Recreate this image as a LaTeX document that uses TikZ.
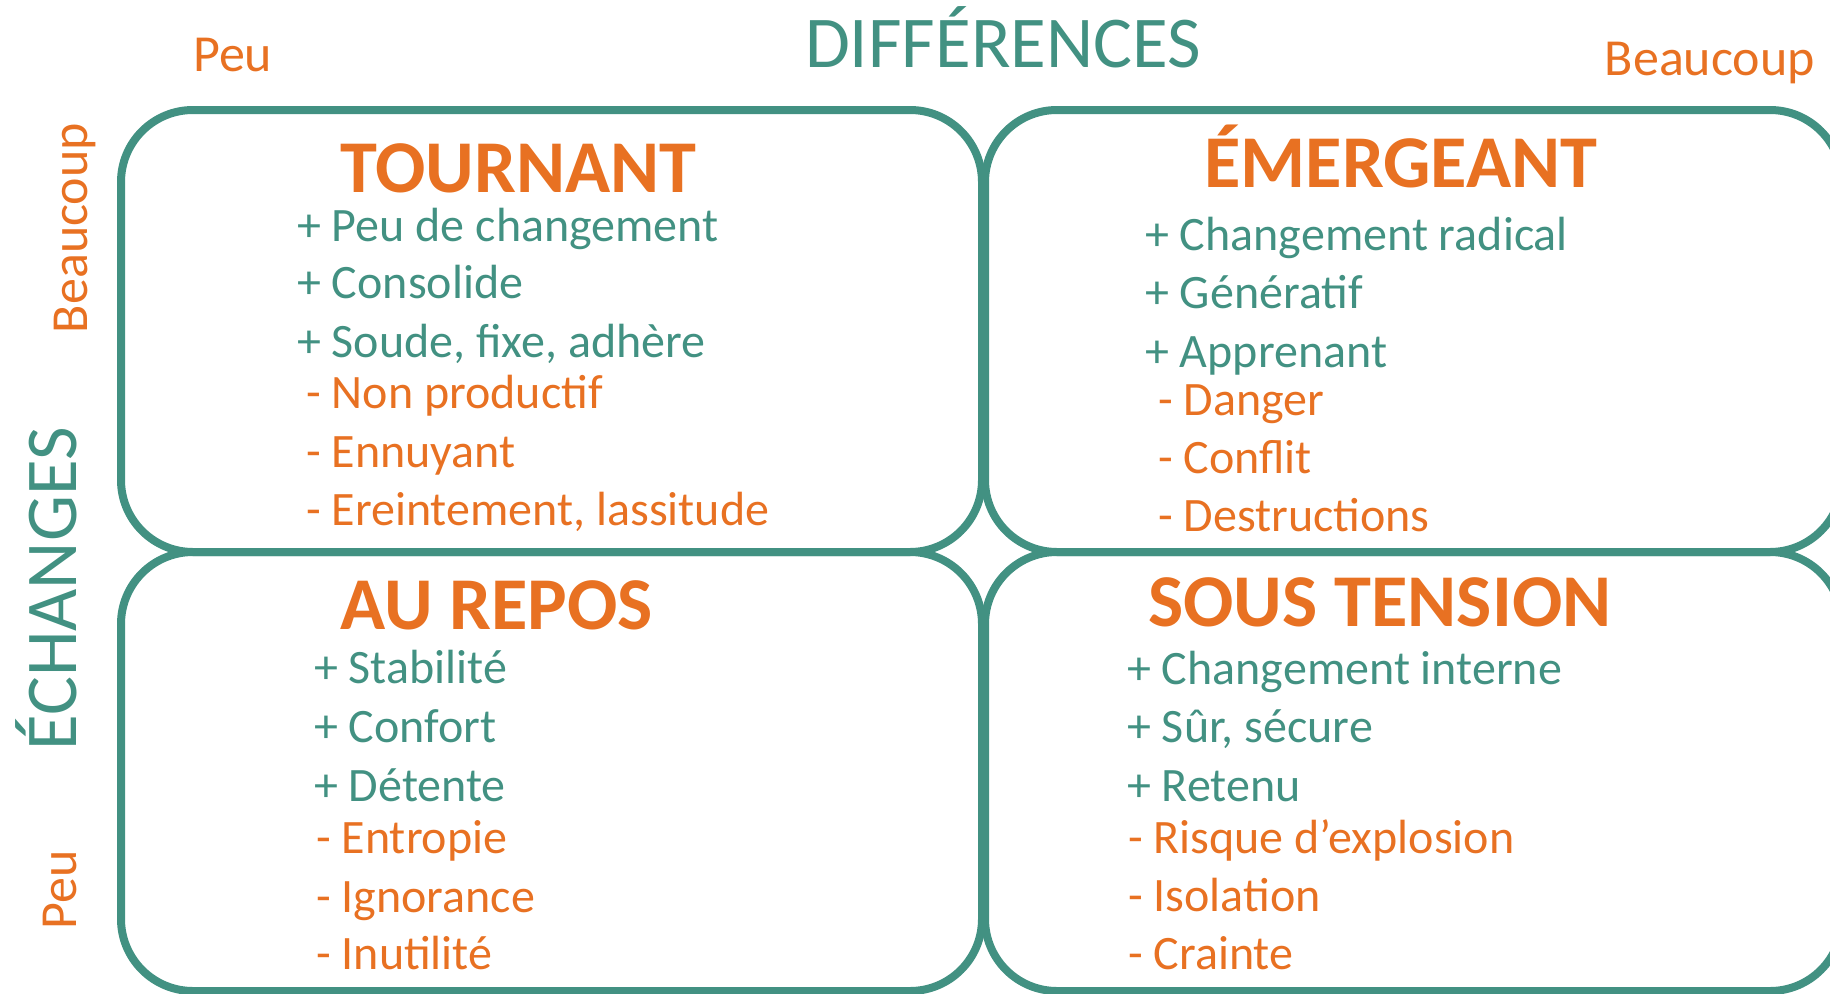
\documentclass[tikz,border=0pt]{standalone}
\usepackage{fontspec}
\setmainfont{Carlito}
\definecolor{tealc}{RGB}{66,145,130}
\definecolor{orngc}{RGB}{232,113,34}
\begin{document}
\begin{tikzpicture}[x=1pt,y=-1pt,
  quad/.style={draw=tealc, line width=8pt, rounded corners=72pt},
  ttl/.style={text=orngc, font=\fontsize{74.5}{80}\selectfont\bfseries, inner sep=0pt, anchor=base west},
  plusitem/.style={text=tealc, font=\fontsize{48}{52}\selectfont, inner sep=0pt, anchor=base west},
  minusitem/.style={text=orngc, font=\fontsize{48}{52}\selectfont, inner sep=0pt, anchor=base west},
  axislabel/.style={text=tealc, font=\fontsize{73}{78}\selectfont, inner sep=0pt},
  lvl/.style={text=orngc, font=\fontsize{52}{56}\selectfont, inner sep=0pt}
]
\useasboundingbox (0,0) rectangle (1830,993);
% quadrants
\draw[quad] (121,110) rectangle (982,552);
\draw[quad] (985,110) rectangle (1842,552);
\draw[quad] (121,552) rectangle (982,991);
\draw[quad] (985,552) rectangle (1842,991);
% axes
\node[axislabel, anchor=base] (diff) at (1003,67) {DIFFÉRENCES};
\node[axislabel, anchor=base, rotate=90] (ech) at (76,589) {ÉCHANGES};
\node[lvl, anchor=base west] (peuh) at (193,71) {Peu};
\node[lvl, anchor=base east] (beauh) at (1815,75) {Beaucoup};
\node[lvl, anchor=base, rotate=90] (beauv) at (87,228) {Beaucoup};
\node[lvl, anchor=base, rotate=90] (peuv) at (76,890) {Peu};
% top-left quadrant
\node[ttl] (t1) at (340,192) {TOURNANT};
\node[plusitem] (t1a) at (297,241) {+ Peu de changement};
\node[plusitem] (t1b) at (297,298) {+ Consolide};
\node[plusitem] (t1c) at (297,357) {+ Soude, fixe, adhère};
\node[minusitem] (t1d) at (306,408) {- Non productif};
\node[minusitem] (t1e) at (306,467) {- Ennuyant};
\node[minusitem] (t1f) at (306,525) {- Ereintement, lassitude};
% top-right quadrant
\node[ttl] (t2) at (1204,187) {ÉMERGEANT};
\node[plusitem] (t2a) at (1145,250) {+ Changement radical};
\node[plusitem] (t2b) at (1145,308) {+ Génératif};
\node[plusitem] (t2c) at (1145,367) {+ Apprenant};
\node[minusitem] (t2d) at (1158,415) {- Danger};
\node[minusitem] (t2e) at (1158,473) {- Conflit};
\node[minusitem] (t2f) at (1158,531) {- Destructions};
% bottom-left quadrant
\node[ttl] (t3) at (340,629) {AU REPOS};
\node[plusitem] (t3a) at (314,683) {+ Stabilité};
\node[plusitem] (t3b) at (314,742) {+ Confort};
\node[plusitem] (t3c) at (314,801) {+ Détente};
\node[minusitem] (t3d) at (316,853) {- Entropie};
\node[minusitem] (t3e) at (316,912) {- Ignorance};
\node[minusitem] (t3f) at (316,969) {- Inutilité};
% bottom-right quadrant
\node[ttl] (t4) at (1148,626) {SOUS TENSION};
\node[plusitem] (t4a) at (1127,684) {+ Changement interne};
\node[plusitem] (t4b) at (1127,742) {+ Sûr, sécure};
\node[plusitem] (t4c) at (1127,801) {+ Retenu};
\node[minusitem] (t4d) at (1128,853) {- Risque d’explosion};
\node[minusitem] (t4e) at (1128,911) {- Isolation};
\node[minusitem] (t4f) at (1128,969) {- Crainte};
\end{tikzpicture}
\end{document}
